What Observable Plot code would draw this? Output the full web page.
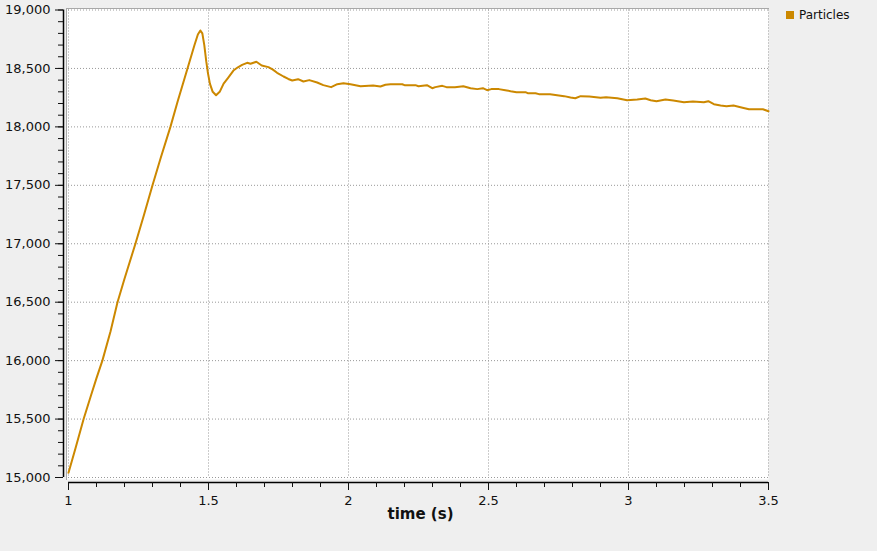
<!DOCTYPE html>
<html>
<head>
<meta charset="utf-8">
<script src="https://cdn.jsdelivr.net/npm/d3@7"></script>
<script src="https://cdn.jsdelivr.net/npm/@observablehq/plot@0.6"></script>
<style>
  html, body { margin: 0; padding: 0; background: #efefef; }
  #wrap { position: relative; width: 877px; height: 551px; overflow: hidden; }
  #legend { position: absolute; left: 786px; top: 8px; font: 12px "DejaVu Sans", sans-serif; color: #111; display: flex; align-items: center; }
  #legend .sw { width: 8px; height: 8px; background: #cc8800; margin-right: 5px; }
</style>
</head>
<body>
<div id="wrap"><div id="legend"><span class="sw"></span><span>Particles</span></div></div>
<script>
const seriesName = "Particles";
const times = [1.000,1.025,1.054,1.08,1.10,1.121,1.15,1.175,1.20,1.239,1.27,1.30,1.33,1.364,1.39,1.425,1.45,1.462,1.471,1.478,1.485,1.492,1.498,1.505,1.515,1.527,1.54,1.554,1.57,1.589,1.605,1.62,1.638,1.65,1.671,1.69,1.714,1.73,1.745,1.768,1.785,1.799,1.82,1.839,1.86,1.888,1.91,1.938,1.96,1.982,2.007,2.043,2.088,2.114,2.132,2.15,2.192,2.2,2.239,2.25,2.28,2.299,2.31,2.335,2.35,2.38,2.41,2.436,2.46,2.48,2.495,2.51,2.537,2.56,2.579,2.6,2.632,2.64,2.668,2.68,2.72,2.745,2.77,2.793,2.81,2.829,2.86,2.9,2.92,2.96,2.995,3.031,3.06,3.079,3.1,3.132,3.16,3.198,3.23,3.269,3.285,3.305,3.329,3.35,3.375,3.4,3.43,3.448,3.48,3.5];
const particles = [15040,15250,15500,15700,15850,16000,16250,16500,16700,17000,17250,17500,17740,18000,18220,18500,18700,18790,18825,18800,18700,18560,18460,18370,18300,18271,18300,18370,18420,18482,18510,18530,18548,18540,18557,18525,18511,18490,18463,18431,18410,18397,18408,18388,18400,18380,18357,18340,18365,18374,18365,18348,18354,18346,18360,18365,18365,18357,18357,18348,18357,18331,18340,18351,18340,18340,18348,18331,18323,18331,18314,18323,18323,18314,18305,18297,18297,18288,18288,18280,18280,18271,18263,18251,18245,18263,18260,18249,18254,18245,18228,18234,18243,18228,18220,18234,18225,18211,18217,18211,18220,18194,18183,18177,18183,18168,18151,18151,18151,18134];
const yMajor = [15000,15500,16000,16500,17000,17500,18000,18500,19000];
const yMinor = d3.range(15000, 19001, 100);
const xMajor = [1, 1.5, 2, 2.5, 3, 3.5];
const xMinor = d3.range(10, 36).map(d => d / 10);
const xLabel = "time (s)";

const data = times.map((t, i) => ({t, v: particles[i]}));
const lineColor = "#cc8800";
const gridStyle = {stroke: "#999", strokeOpacity: 1, strokeDasharray: "1,2", strokeWidth: 1};
const frameInsets = {insetLeft: -2, insetTop: -1.5, insetBottom: -2, insetRight: 0};

const chart = Plot.plot({
  width: 877,
  height: 551,
  marginLeft: 68,
  marginRight: 109,
  marginTop: 9.5,
  marginBottom: 74,
  style: {background: "transparent", fontFamily: "DejaVu Sans, sans-serif", fontSize: "13px", color: "#111"},
  x: {domain: [1, 3.5]},
  y: {domain: [15000, 19000]},
  marks: [
    Plot.frame({fill: "white", stroke: "none", ...frameInsets}),
    Plot.frame({anchor: "top", stroke: "#a8a8a8", ...frameInsets}),
    Plot.frame({anchor: "left", stroke: "#a8a8a8", ...frameInsets}),
    Plot.gridY(yMajor, gridStyle),
    Plot.gridX(xMajor, gridStyle),
    Plot.ruleX([1], {y1: 15000, y2: 19000, dx: -5, stroke: "black", strokeWidth: 1.5}),
    Plot.ruleY([15000], {x1: 1, x2: 3.5, dy: 5, stroke: "black", strokeWidth: 1.5}),
    Plot.axisY(yMajor, {tickSize: 8, dx: -5, tickPadding: 5, tickFormat: d3.format(","), label: null, fontSize: 13}),
    Plot.axisY(yMinor, {tickSize: 5, dx: -5, text: null, label: null}),
    Plot.axisX(xMajor, {tickSize: 8, dy: 5, tickPadding: 5, tickFormat: d => String(d), label: null, fontSize: 13}),
    Plot.axisX(xMinor, {tickSize: 5, dy: 5, text: null, label: null}),
    Plot.line(data, {x: "t", y: "v", stroke: lineColor, strokeWidth: 2}),
    Plot.text([xLabel], {frameAnchor: "bottom", dy: 41, dx: 2, fontSize: 15, fontWeight: "bold", fill: "#111"})
  ]
});
document.getElementById("wrap").prepend(chart);
</script>
</body>
</html>
